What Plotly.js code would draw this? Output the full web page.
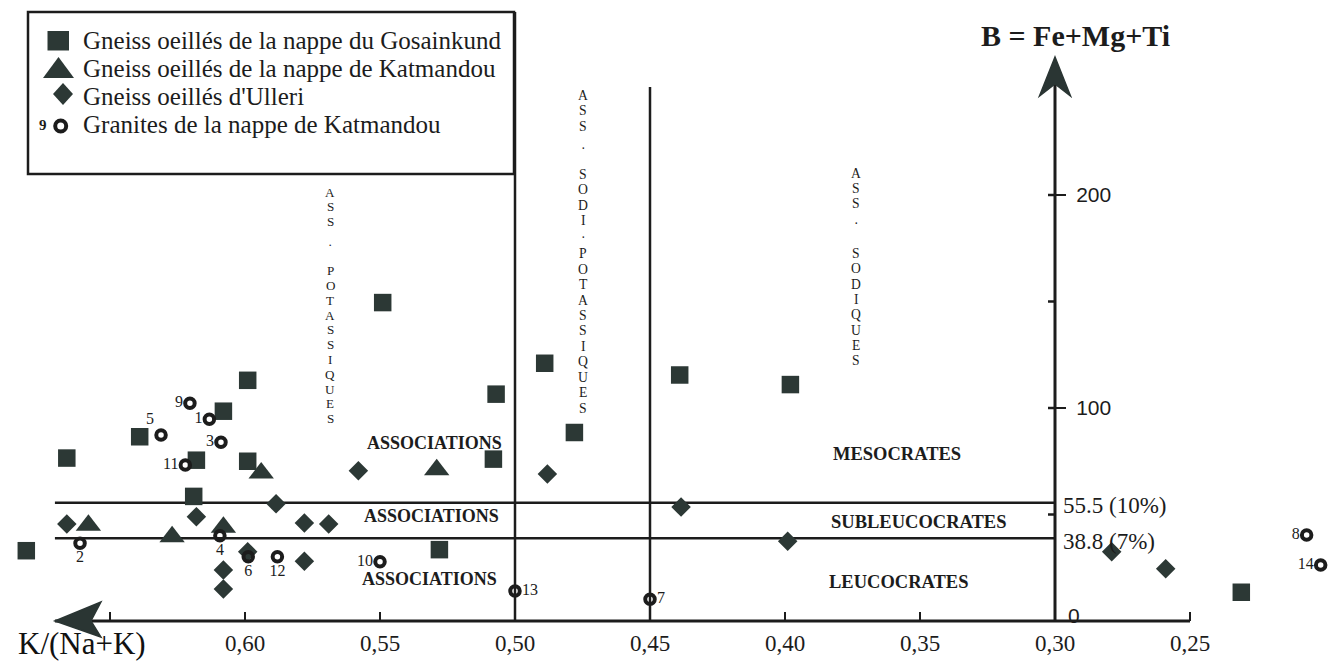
<!DOCTYPE html>
<html><head><meta charset="utf-8">
<script src="https://cdn.plot.ly/plotly-3.0.1.min.js"></script>
<style>html,body{margin:0;padding:0;background:#fff;}#chart{width:1329px;height:669px;}</style>
</head><body><div id="chart"></div>
<script>
// ---------------- data ----------------
// Gneiss oeillés de la nappe du Gosainkund (squares)
const gosainkundX = [0.681,0.666,0.639,0.608,0.618,0.599,0.619,0.599,0.549,0.507,0.508,0.489,0.478,0.528,0.439,0.398,0.231];
const gosainkundB = [33,76.5,86.5,98.5,75.5,75,58.5,113,149.5,106.5,76,121,88.5,33.5,115.5,111,13.5];
// Gneiss oeillés de la nappe de Katmandou (triangles)
const katmandouGneissX = [0.658,0.627,0.608,0.594,0.529];
const katmandouGneissB = [45,39.5,44,69.5,71];
// Gneiss oeillés d'Ulleri (diamonds)
const ulleriX = [0.666,0.618,0.5885,0.578,0.569,0.558,0.599,0.608,0.608,0.578,0.488,0.4385,0.399,0.279,0.259];
const ulleriB = [45.5,49,55,46,45.5,70.5,32.5,24,15,28,69,53.5,37.5,32.5,24.5];
// Granites de la nappe de Katmandou (numbered rings)
const graniteX = [0.6132,0.6611,0.6089,0.6093,0.6311,0.5988,0.45,0.2068,0.6204,0.55,0.6221,0.588,0.50,0.2016];
const graniteB = [94.7,36.5,83.9,40.0,87.3,30.2,10.2,40.4,102.2,27.8,73.2,30.2,14.1,26.3];
const graniteLabels = ['1','2','3','4','5','6','7','8','9','10','11','12','13','14'];
const granitePos = ['middle left','bottom center','middle left','bottom center','top left','bottom center','middle right','middle left','middle left','middle left','middle left','bottom center','middle right','middle left'];

const xTickVals = [0.65,0.60,0.55,0.50,0.45,0.40,0.35,0.30,0.25];
const xTickText = ['','0,60','0,55','0,50','0,45','0,40','0,35','0,30','0,25'];
const yTickVals = [100,200];
const yTickText = ['100','200'];
const yHalfTicks = [50,100,150,200];
const limitValues = [55.5,38.8];
const limitLabels = ['55.5 (10%)','38.8 (7%)'];
const legendNames = ['Gneiss oeillés de la nappe du Gosainkund','Gneiss oeillés de la nappe de Katmandou',"Gneiss oeillés d'Ulleri",'Granites de la nappe de Katmandou'];

// ---------------- layout helpers ----------------
const W = 1329, H = 669, BOT = 621;
const X = px => px / W;
const Y = py => (BOT - py) / BOT;
const xRange = [0.690741, 0.198519];
const yRange = [0, 291.55];
const axisX = 0.30;
const leftEnd = 0.6704;
const ink = '#1c1c1c', mark = '#2c3835';
const serif = 'Liberation Serif, Times New Roman, serif';
const sans = 'Liberation Sans, Arial, sans-serif';
const xToPaper = v => (xRange[0] - v) / (xRange[0] - xRange[1]);

const traces = [
  {x: gosainkundX, y: gosainkundB, type:'scatter', mode:'markers', name: legendNames[0], cliponaxis:false,
   marker:{symbol:'square', size:17.5, color:mark}},
  {x: katmandouGneissX, y: katmandouGneissB, type:'scatter', mode:'markers', name: legendNames[1], cliponaxis:false,
   marker:{symbol:'triangle-up', size:22, color:mark}},
  {x: ulleriX, y: ulleriB, type:'scatter', mode:'markers', name: legendNames[2], cliponaxis:false,
   marker:{symbol:'diamond', size:15, color:mark}},
  {x: graniteX, y: graniteB, type:'scatter', mode:'markers+text', name: legendNames[3], cliponaxis:false,
   text: graniteLabels, textposition: granitePos,
   textfont:{family:serif, size:16, color:ink},
   marker:{symbol:'circle-open', size:9.5, color:ink, line:{width:4, color:ink}}}
];

const shapes = [];
const L = (o) => shapes.push(Object.assign({type:'line', layer:'below', line:{color:ink, width:2.5}}, o));
// legend frame
shapes.push({type:'rect', xref:'paper', yref:'paper', x0:X(28), x1:X(514), y0:Y(174), y1:Y(12), line:{color:ink, width:2.5}});
// association dividers
L({xref:'x', yref:'paper', x0:0.50, x1:0.50, y0:0, y1:Y(12)});
L({xref:'x', yref:'paper', x0:0.45, x1:0.45, y0:0, y1:Y(87)});
// colour index limits
limitValues.forEach(v => L({xref:'x', yref:'y', x0:leftEnd, x1:axisX, y0:v, y1:v}));
// axes lines
L({xref:'paper', yref:'paper', x0:xToPaper(leftEnd), x1:xToPaper(0.25), y0:0, y1:0, line:{color:ink, width:3}});
L({xref:'x', yref:'y', x0:axisX, x1:axisX, y0:0, y1:262, line:{color:ink, width:3}});
// arrow heads
shapes.push({type:'path', xref:'paper', yref:'paper', xsizemode:'pixel', ysizemode:'pixel', xanchor:xToPaper(leftEnd), yanchor:0,
  path:'M0,0 L46,19 L36,0 L46,-16 Z', fillcolor:'#2a3533', line:{color:'#2a3533', width:1.5}});
shapes.push({type:'path', xref:'x', yref:'y', xsizemode:'pixel', ysizemode:'pixel', xanchor:axisX, yanchor:264.8,
  path:'M0,0 L-15.5,-39 L0,-27 L15.5,-39 Z', fillcolor:'#2a3533', line:{color:'#2a3533', width:1.5}});
// left halves of the B-axis ticks
yHalfTicks.forEach(v => shapes.push({type:'line', xref:'x', yref:'y', xsizemode:'pixel', xanchor:axisX, x0:-7, x1:0, y0:v, y1:v, line:{color:ink, width:2.5}}));
// legend symbols
const pathP = pts => 'M' + pts.map(p => X(p[0]) + ',' + Y(p[1])).join(' L') + ' Z';
shapes.push({type:'path', xref:'paper', yref:'paper', path:pathP([[47.5,31],[69,31],[69,50.5],[47.5,50.5]]), fillcolor:mark, line:{width:0}});
shapes.push({type:'path', xref:'paper', yref:'paper', path:pathP([[43,78],[74,78],[58.5,57]]), fillcolor:mark, line:{width:0}});
shapes.push({type:'path', xref:'paper', yref:'paper', path:pathP([[63,83],[73,94],[63,105],[53,94]]), fillcolor:mark, line:{width:0}});
shapes.push({type:'circle', xref:'paper', yref:'paper', x0:X(55.2), x1:X(66.2), y0:Y(131.5), y1:Y(120.5), line:{color:ink, width:4}});

const annotations = [];
const A = (o) => annotations.push(Object.assign({showarrow:false, xref:'paper', yref:'paper', xanchor:'center', yanchor:'middle'}, o));
// legend texts
[40.6, 68.6, 96.6, 124.6].forEach((py, i) => A({x:X(81), y:Y(py), xanchor:'left', text:legendNames[i], font:{family:serif, size:25, color:ink}}));
A({x:X(43), y:Y(125), text:'<b>9</b>', font:{family:serif, size:15, color:ink}});
// vertical stacked labels (upright letters, one per line)
const columns = [
  {x:0.5685, top:192, step:14.8, words:['ASS','POTASSIQUES'], gaps:[[23,26]]},
  {x:0.4748, top:95, step:15.5, words:['ASS','SODI','POTASSIQUES'], gaps:[[23,25],[16.5,16.5]]},
  {x:0.3737, top:173, step:15.3, words:['ASS','SODIQUES'], gaps:[[20,30]]}
];
columns.forEach(c => {
  const fs = Math.floor(c.step / 1.125 * 10) / 10;
  const letter = (py, ch) => annotations.push({showarrow:false, xref:'x', yref:'paper', x:c.x, y:Y(py), xanchor:'center', yanchor:'middle',
    text:ch, font:{family:serif, size:fs, color:ink}});
  let py = c.top;
  c.words.forEach((w, wi) => {
    w.split('').forEach((ch, ci) => {
      letter(py, ch);
      if (ci < w.length - 1) py += c.step;
    });
    if (wi < c.words.length - 1) {
      py += c.gaps[wi][0];
      letter(py, '·');
      py += c.gaps[wi][1];
    }
  });
});
// region labels
const bold = (t) => '<b>' + t + '</b>';
[[434,443],[431,516],[429,579]].forEach(p => A({x:X(p[0]), y:Y(p[1]), text:bold('ASSOCIATIONS'), font:{family:serif, size:18, color:ink}}));
A({x:X(897), y:Y(454), text:bold('MESOCRATES'), font:{family:serif, size:18.5, color:ink}});
A({x:X(918), y:Y(522), text:bold('SUBLEUCOCRATES'), font:{family:serif, size:18.5, color:ink}});
A({x:X(898), y:Y(582), text:bold('LEUCOCRATES'), font:{family:serif, size:18.5, color:ink}});
// limit labels
limitValues.forEach((v, i) => A({xref:'x', yref:'y', x:axisX, y:v, xshift:6, yshift:-3, xanchor:'left', text:limitLabels[i], font:{family:serif, size:23, color:ink}}));
A({xref:'x', yref:'y', x:axisX, y:0, xshift:11, yshift:6, xanchor:'left', text:'0', font:{family:sans, size:21, color:ink}});
// axis titles
A({x:X(1075), y:Y(35), text:bold('B = Fe+Mg+Ti'), font:{family:serif, size:30, color:ink}});
A({x:X(82), y:Y(643), text:'K/(Na+K)', font:{family:serif, size:31, color:'#111'}});

const layout = {
  width:W, height:H, margin:{l:0, r:0, t:0, b:H-BOT, pad:0},
  paper_bgcolor:'#fff', plot_bgcolor:'#fff', showlegend:false,
  xaxis:{range:xRange, tickvals:xTickVals, ticktext:xTickText, ticks:'inside', ticklen:9, tickwidth:2.5, tickcolor:ink,
         showline:false, showgrid:false, zeroline:false, automargin:false, ticklabelstandoff:6,
         tickfont:{family:serif, size:23, color:ink}},
  yaxis:{range:yRange, anchor:'free', position:xToPaper(axisX), side:'right',
         tickvals:yTickVals, ticktext:yTickText, ticks:'outside', ticklen:10, tickwidth:2.5, tickcolor:ink,
         showline:false, showgrid:false, zeroline:false, automargin:false, ticklabelstandoff:6,
         tickfont:{family:sans, size:21, color:ink}},
  shapes:shapes, annotations:annotations
};
Plotly.newPlot('chart', traces, layout, {displayModeBar:false, staticPlot:true});
</script></body></html>
